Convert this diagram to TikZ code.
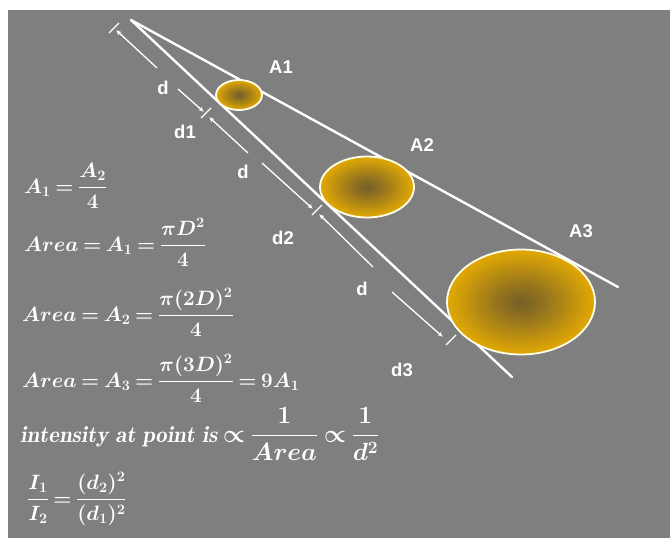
\documentclass[tikz,border=0pt]{standalone}
\usepackage{amsmath}
\usepackage{fontspec}
\newfontfamily\labelfont{Liberation Sans}
\usetikzlibrary{arrows.meta,shapes.geometric}

\definecolor{slate}{RGB}{127,127,127}
\definecolor{gold}{RGB}{236,176,0}
\definecolor{spot}{RGB}{118,95,40}
\pgfdeclareradialshading{spotshade}{\pgfpoint{0bp}{0bp}}{%
  color(0bp)=(spot); color(8bp)=(spot!75!gold); color(24bp)=(gold!88!spot);
  color(34bp)=(gold); color(50bp)=(gold)}
\newcommand\eqfont[1]{\fontsize{#1}{28}\selectfont\boldmath\thickmuskip=3.5mu plus 2mu\relax}

\begin{document}
\begin{tikzpicture}[x=1pt,y=-1pt,
    ray/.style={white, line width=2.4pt, line cap=round},
    dimline/.style={white, line width=1.3pt},
    dimarrow/.style={dimline, -{Latex[length=5pt,width=4.5pt]}},
    spotlight/.style={ellipse, draw=white!92!yellow, line width=1.8pt,
        shading=spotshade, inner sep=0pt},
    lbl/.style={text=white, inner sep=0pt,
        font=\labelfont\bfseries\fontsize{18.5}{18.5}\selectfont},
    eq/.style={text=white, anchor=base west, inner sep=0pt, font=\eqfont{22}}]

    \useasboundingbox (0,0) rectangle (670,538);
    \fill[white] (0,0) rectangle (670,538);
    \fill[slate] (8,10) rectangle (670,538);

    % light cone
    \coordinate (apex) at (131,20);
    \coordinate (upperend) at (618,287);
    \coordinate (lowerend) at (512,377);
    \draw[ray] (apex) -- (upperend);
    \draw[ray] (apex) -- (lowerend);

    \node[spotlight, minimum width=46pt, minimum height=30pt] (a1) at (239,95) {};
    \node[spotlight, minimum width=94pt, minimum height=61pt] (a2) at (367,187) {};
    \node[spotlight, minimum width=148pt, minimum height=105pt] (a3) at (521,302) {};

    \node[lbl] (a1lbl) at (281,67) {A1};
    \node[lbl] (a2lbl) at (422,145) {A2};
    \node[lbl] (a3lbl) at (581,231) {A3};

    % distance marks
    \coordinate (tick0) at (114,28);
    \coordinate (tick1) at (206,113);
    \coordinate (tick2) at (317,210);
    \coordinate (tick3) at (451,340);
    \foreach \t in {tick0,tick1,tick2,tick3}
        \draw[dimline] (\t) +(-5,5) -- +(5,-5);

    \coordinate (seg1) at (157,68);
    \coordinate (seg2) at (178,89);
    \coordinate (seg3) at (248,153);
    \coordinate (seg4) at (262,163);
    \coordinate (seg5) at (373,267);
    \coordinate (seg6) at (392,292);
    \draw[dimarrow] (seg1) -- (116,30);
    \draw[dimarrow] (seg2) -- (204,112);
    \draw[dimarrow] (seg3) -- (209,117);
    \draw[dimarrow] (seg4) -- (313,209);
    \draw[dimarrow] (seg5) -- (319,214);
    \draw[dimarrow] (seg6) -- (443,337);

    \node[lbl] (dlbl1) at (163,88) {d};
    \node[lbl] (d1lbl) at (185,132) {d1};
    \node[lbl] (dlbl2) at (243,172) {d};
    \node[lbl] (d2lbl) at (283,238) {d2};
    \node[lbl] (dlbl3) at (362,289) {d};
    \node[lbl] (d3lbl) at (402,370) {d3};

    % formulas
    \node[eq] (eqa) at (24,193) {$A_1=\dfrac{A_2}{4}$};
    \node[eq] (eqb) at (24,251) {$Area=A_1=\dfrac{\pi D^2}{4}$};
    \node[eq] (eqc) at (22,321) {$Area=A_2=\dfrac{\pi(2D)^2}{4}$};
    \node[eq] (eqd) at (22,387) {$Area=A_3=\dfrac{\pi(3D)^2}{4}= 9A_1$};
    \node[eq, font=\eqfont{23}] (eqe) at (20,442) {$\mathit{intensity\ at\ point\ is}\propto\dfrac{1}{Area}\propto\dfrac{1}{d^2}$};
    \node[eq] (eqf) at (27,505) {$\dfrac{I_1}{I_2}=\dfrac{(d_2)^2}{(d_1)^2}$};
\end{tikzpicture}
\end{document}
